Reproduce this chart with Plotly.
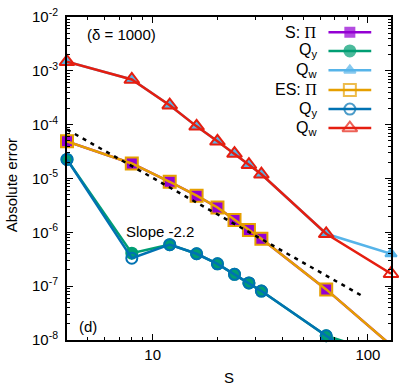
import plotly.graph_objects as go

# data (S = grid size)
S = [4, 8, 12, 16, 20, 24, 28, 32, 64, 128]

s_pi = [4.9e-5, 1.9e-5, 8.7e-6, 4.8e-6, 2.9e-6, 1.7e-6, 1.1e-6, 7.6e-7, 8.7e-8, 8.0e-9]
s_qy = [2.26e-5, 4.1e-7, 5.9e-7, 4.0e-7, 2.6e-7, 1.66e-7, 1.15e-7, 8.1e-8, 1.2e-8, 5.0e-9]
s_qw = [1.48e-3, 6.9e-4, 2.3e-4, 9.3e-5, 4.9e-5, 2.9e-5, 1.8e-5, 1.2e-5, 9.4e-7, 4.0e-7]

es_pi = [4.9e-5, 1.9e-5, 8.7e-6, 4.8e-6, 2.9e-6, 1.7e-6, 1.1e-6, 7.6e-7, 8.7e-8, 8.0e-9]
es_qy = [2.26e-5, 3.3e-7, 5.9e-7, 4.0e-7, 2.6e-7, 1.66e-7, 1.15e-7, 8.1e-8, 1.2e-8, 2.0e-9]
es_qw = [1.48e-3, 6.9e-4, 2.3e-4, 9.3e-5, 4.9e-5, 2.9e-5, 1.8e-5, 1.2e-5, 9.4e-7, 1.7e-7]

# slope -2.2 guide line end points
slope_S = [4, 96]
slope_err = [8.1e-5, 6.3e-8]

y_tickvals = [1e-8, 1e-7, 1e-6, 1e-5, 1e-4, 1e-3, 1e-2]
y_ticktext = ["10<sup>-8</sup>", "10<sup>-7</sup>", "10<sup>-6</sup>", "10<sup>-5</sup>",
              "10<sup>-4</sup>", "10<sup>-3</sup>", "10<sup>-2</sup>"]
x_tickvals = [10, 100]
x_ticktext = ["10", "100"]

YMIN = 1e-8
FONT = "Liberation Sans, Arial, sans-serif"
PI = '<span style="font-family:Liberation Serif, serif">Π</span>'

series = [
    # name, values, colour, symbol, size
    ("S: " + PI, s_pi, "#9400d3", "square", 9),
    ("Q<sub>y</sub>", s_qy, "#009e73", "circle", 11),
    ("Q<sub>w</sub>", s_qw, "#56b4e9", "triangle-up", 10),
    ("ES: " + PI, es_pi, "#e69f00", "square-open", 12),
    ("Q<sub>y</sub>", es_qy, "#0072b2", "circle-open", 11),
    ("Q<sub>w</sub>", es_qw, "#e51e10", "triangle-up-open", 13),
]

fig = go.Figure()

for name, vals, col, sym, size in series:
    fig.add_trace(go.Scatter(
        x=S, y=vals, mode="lines+markers",
        line=dict(color=col, width=2.5),
        marker=dict(color=col, symbol=sym, size=size,
                    line=dict(color=col, width=2),
                    opacity=[1 if v >= YMIN else 0 for v in vals]),
        cliponaxis=False, showlegend=False,
    ))

fig.add_trace(go.Scatter(
    x=slope_S, y=slope_err, mode="lines",
    line=dict(color="black", width=2.5, dash="4px,5px"),
    showlegend=False,
))

# hand-made legend (text left of the sample, gnuplot style)
leg_rows = [0.953, 0.895, 0.835, 0.774, 0.715, 0.656]
annotations = []
for (name, vals, col, sym, size), ly in zip(series, leg_rows):
    fig.add_trace(go.Scatter(
        x=[0.807, 0.873, 0.939], y=[ly, ly, ly], mode="lines+markers",
        xaxis="x2", yaxis="y2",
        line=dict(color=col, width=2.5),
        marker=dict(color=col, symbol=sym, size=[0, size, 0],
                    line=dict(color=col, width=2)),
        showlegend=False, hoverinfo="skip",
    ))
    annotations.append(dict(
        text=name, xref="paper", yref="paper", x=0.778, y=ly,
        xanchor="right", yanchor="middle", showarrow=False,
        font=dict(size=16, color="black", family=FONT),
    ))

annotations += [
    dict(text="(δ = 1000)", xref="paper", yref="paper", x=0.055, y=0.946,
         xanchor="left", yanchor="middle", showarrow=False, font=dict(size=15)),
    dict(text="Slope -2.2", xref="paper", yref="paper", x=0.175, y=0.335,
         xanchor="left", yanchor="middle", showarrow=False, font=dict(size=15)),
    dict(text="(d)", xref="paper", yref="paper", x=0.03, y=0.043,
         xanchor="left", yanchor="middle", showarrow=False, font=dict(size=15)),
    dict(text="Absolute error", xref="paper", yref="paper", x=-0.169, y=0.48,
         textangle=-90, xanchor="center", yanchor="middle", showarrow=False,
         font=dict(size=15)),
    dict(text="S", xref="paper", yref="paper", x=0.5, y=-0.117,
         xanchor="center", yanchor="middle", showarrow=False, font=dict(size=15)),
]

axis_common = dict(
    type="log", showgrid=False, zeroline=False,
    showline=True, linecolor="black", linewidth=2, mirror="allticks",
    ticks="inside", ticklen=6, tickwidth=1, tickcolor="black",
    tickfont=dict(size=15, color="black", family=FONT),
    minor=dict(dtick="D1", ticks="inside", ticklen=3, tickcolor="black", showgrid=False),
)

fig.update_layout(
    width=399, height=392,
    margin=dict(l=67, r=6, t=15, b=52),
    paper_bgcolor="white", plot_bgcolor="white",
    font=dict(family=FONT, color="black", size=15),
    xaxis=dict(axis_common, range=[0.60204, 2.10723],
               tickmode="array", tickvals=x_tickvals, ticktext=x_ticktext),
    yaxis=dict(axis_common, range=[-8, -2], ticklabelstandoff=4,
               tickmode="array", tickvals=y_tickvals, ticktext=y_ticktext),
    xaxis2=dict(overlaying="x", range=[0, 1], visible=False, anchor="y2"),
    yaxis2=dict(overlaying="y", range=[0, 1], visible=False, anchor="x2"),
    annotations=annotations,
)

fig.write_html("out.html", config={"displayModeBar": False},
               post_script="document.body.style.margin='0';")
